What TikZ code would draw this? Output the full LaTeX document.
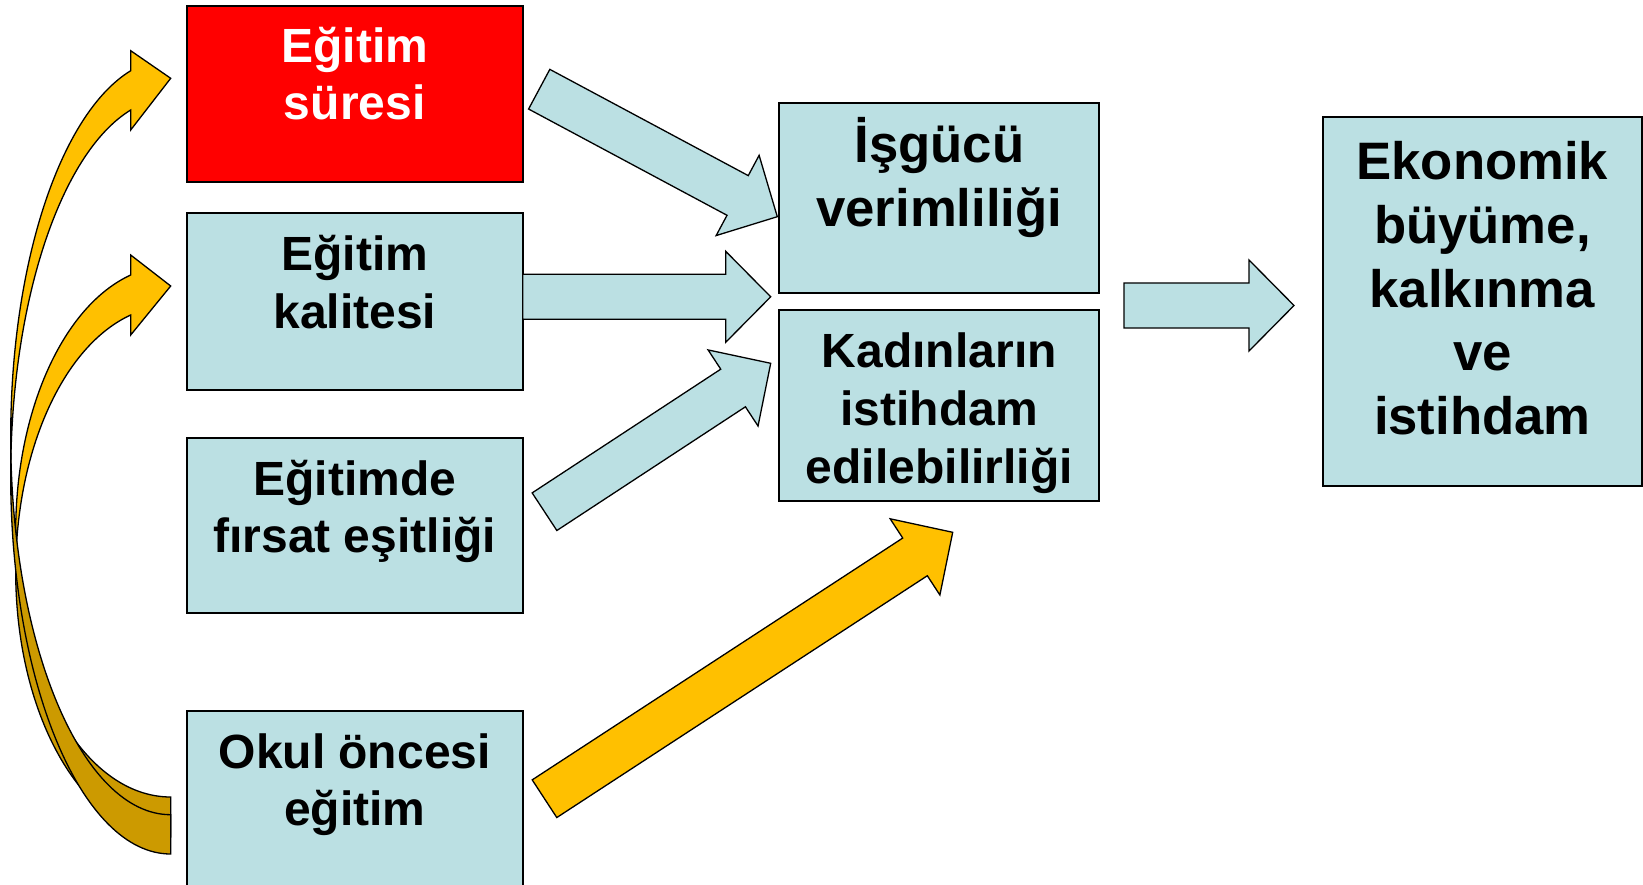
\documentclass[tikz,border=0pt]{standalone}
\usepackage{fontspec}
\setmainfont{Liberation Sans}
\usetikzlibrary{calc}
\definecolor{boxblue}{RGB}{187,224,227}
\definecolor{arrorange}{RGB}{255,192,0}
\definecolor{arrdark}{RGB}{204,154,0}
\tikzset{
  box/.style={draw=black, line width=2pt, fill=boxblue, inner sep=0pt, minimum width=336pt, minimum height=176pt},
  redbox/.style={box, fill=red},
  midbox/.style={box, minimum width=320pt, minimum height=190.7pt},
  txt/.style={anchor=base, inner sep=0pt, font=\fontsize{48}{58}\selectfont\bfseries},
  txtbig/.style={anchor=base, inner sep=0pt, font=\fontsize{52.7}{64}\selectfont\bfseries},
  barrow/.style={draw=black, line width=1.3pt, line join=miter},
  bluearrow/.style={barrow, fill=boxblue},
  orangearrow/.style={barrow, fill=arrorange},
  curvefront/.style={draw=black, line width=1.3pt, fill=arrorange},
  curveback/.style={draw=black, line width=1.3pt, fill=arrdark},
}
\newcommand\blockarrow[3]{%
  \coordinate (#2-hb) at ($(#3)!45pt!(#2)$);
  \path[#1] ($(#2)!22.5pt!90:(#3)$) -- ($(#2-hb)!22.5pt!90:(#3)$) -- ($(#2-hb)!45.5pt!90:(#3)$) -- (#3)
    -- ($(#2-hb)!45.5pt!-90:(#3)$) -- ($(#2-hb)!22.5pt!-90:(#3)$) -- ($(#2)!22.5pt!-90:(#3)$) -- cycle;
}
\begin{document}
\begin{tikzpicture}[x=1pt, y=-1pt]
\useasboundingbox (0,0) rectangle (1643,885);
\clip (0,0) rectangle (1643,885);

% curved arrow to "Egitim kalitesi"
\path[curvefront] (15.7,531.5) arc[start angle=180, end angle=255.04, x radius=155, y radius=265.5]
  -- (130.7,255) -- (170.7,286) -- (130.7,335) -- (130.7,315)
  arc[start angle=255.04, end angle=180, x radius=155, y radius=265.5] -- cycle;
\path[curveback] (15.7,531.5) arc[start angle=180, end angle=90, x radius=155, y radius=265.5]
  -- (170.7,837) arc[start angle=90, end angle=180, x radius=155, y radius=265.5] -- cycle;

% curved arrow to "Egitim suresi"
\path[curvefront] (10.7,436.7) arc[start angle=180, end angle=255.52, x radius=160, y radius=378]
  -- (130.7,50.7) -- (170.7,78.3) -- (130.7,130) -- (130.7,110)
  arc[start angle=255.52, end angle=180, x radius=160, y radius=378] -- cycle;
\path[curveback] (10.7,436.7) arc[start angle=180, end angle=90, x radius=160, y radius=378]
  -- (170.7,854) arc[start angle=90, end angle=180, x radius=160, y radius=378] -- cycle;

% boxes
\node[redbox] (sure) at (354.7,93.7) {};
\node[box] (kalite) at (354.7,301.5) {};
\node[box, minimum height=175.6pt] (firsat) at (354.7,525.5) {};
\node[box, minimum height=190pt] (okul) at (354.7,805.7) {};
\node[midbox] (isgucu) at (939.3,198) {};
\node[midbox] (kadin) at (939.3,405.35) {};
\node[box, minimum width=319.3pt, minimum height=368.7pt] (ekonomi) at (1482.35,301.65) {};

% texts
\node[txt, text=white] (sure1) at (354.7,62.3) {Eğitim};
\node[txt, text=white] (sure2) at (354.7,120) {süresi};
\node[txt] (kalite1) at (354.7,271) {Eğitim};
\node[txt] (kalite2) at (354.7,328) {kalitesi};
\node[txt] (firsat1) at (354.7,495) {Eğitimde};
\node[txt] (firsat2) at (354.7,552) {fırsat eşitliği};
\node[txt] (okul1) at (354.7,768) {Okul öncesi};
\node[txt] (okul2) at (354.7,825) {eğitim};
\node[txtbig] (isgucu1) at (939.3,162.5) {İşgücü};
\node[txtbig] (isgucu2) at (939.3,226.5) {verimliliği};
\node[txt] (kadin1) at (939.3,367) {Kadınların};
\node[txt] (kadin2) at (939.3,425) {istihdam};
\node[txt] (kadin3) at (939.3,483) {edilebilirliği};
\node[txtbig] (eko1) at (1482.35,179.5) {Ekonomik};
\node[txtbig] (eko2) at (1482.35,243.3) {büyüme,};
\node[txtbig] (eko3) at (1482.35,307.1) {kalkınma};
\node[txtbig] (eko4) at (1482.35,370.9) {ve};
\node[txtbig] (eko5) at (1482.35,434.7) {istihdam};

% straight block arrows
\coordinate (aT) at (539.2,89.2);   \coordinate (aH) at (777.3,216.7);
\coordinate (bT) at (522.7,296.8);  \coordinate (bH) at (770.7,296.8);
\coordinate (cT) at (544.5,511.7);  \coordinate (cH) at (770.7,363.3);
\coordinate (dT) at (544.5,798.7);  \coordinate (dH) at (952.7,532.3);
\coordinate (eT) at (1124,305.5);   \coordinate (eH) at (1294,305.5);
\blockarrow{bluearrow}{aT}{aH}
\blockarrow{bluearrow}{bT}{bH}
\blockarrow{bluearrow}{cT}{cH}
\blockarrow{orangearrow}{dT}{dH}
\blockarrow{bluearrow}{eT}{eH}
\end{tikzpicture}
\end{document}
